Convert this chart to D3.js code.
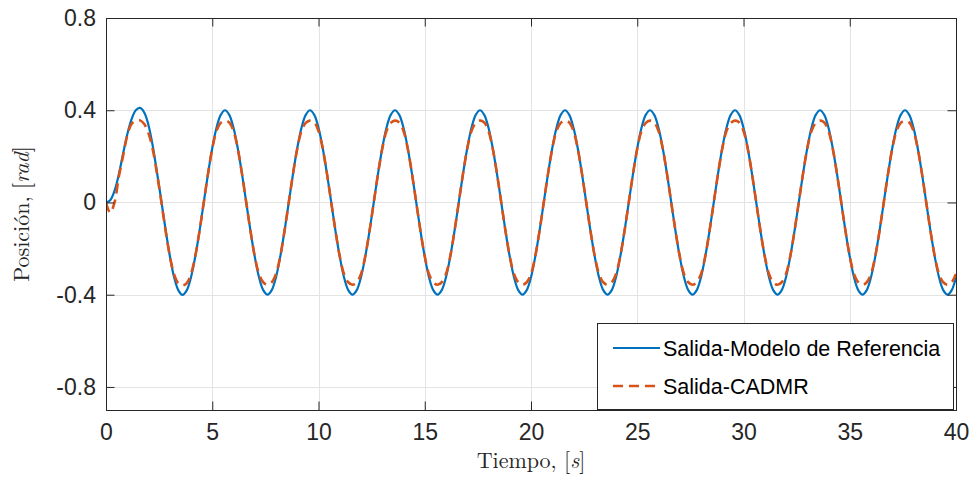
<!DOCTYPE html>
<meta charset="utf-8">
<script src="https://d3js.org/d3.v7.min.js"></script>
<style>
  body { margin: 0; background: #fff; }
  svg { display: block; }
</style>
<body>
<script>

// time axis, samples every 0.2 s from 0 to 40 s
var t = d3.range(0, 40.0001, 0.2);

// reference model output (blue)
var salidaModelo = [
  0, 0.01, 0.05, 0.12, 0.21, 0.295, 0.36, 0.40, 0.41, 0.39, 0.335, 0.245, 0.13, 0.01, -0.115, -0.23, -0.322, -0.38, -0.401, -0.381,
  -0.324, -0.235, -0.124, 0, 0.124, 0.235, 0.324, 0.380, 0.400, 0.380, 0.324, 0.235, 0.124, 0, -0.124, -0.235, -0.324, -0.380, -0.400, -0.380,
  -0.324, -0.235, -0.124, 0, 0.124, 0.235, 0.324, 0.380, 0.400, 0.380, 0.324, 0.235, 0.124, 0, -0.124, -0.235, -0.324, -0.380, -0.400, -0.380,
  -0.324, -0.235, -0.124, 0, 0.124, 0.235, 0.324, 0.380, 0.400, 0.380, 0.324, 0.235, 0.124, 0, -0.124, -0.235, -0.324, -0.380, -0.400, -0.380,
  -0.324, -0.235, -0.124, 0, 0.124, 0.235, 0.324, 0.380, 0.400, 0.380, 0.324, 0.235, 0.124, 0, -0.124, -0.235, -0.324, -0.380, -0.400, -0.380,
  -0.324, -0.235, -0.124, 0, 0.124, 0.235, 0.324, 0.380, 0.400, 0.380, 0.324, 0.235, 0.124, 0, -0.124, -0.235, -0.324, -0.380, -0.400, -0.380,
  -0.324, -0.235, -0.124, 0, 0.124, 0.235, 0.324, 0.380, 0.400, 0.380, 0.324, 0.235, 0.124, 0, -0.124, -0.235, -0.324, -0.380, -0.400, -0.380,
  -0.324, -0.235, -0.124, 0, 0.124, 0.235, 0.324, 0.380, 0.400, 0.380, 0.324, 0.235, 0.124, 0, -0.124, -0.235, -0.324, -0.380, -0.400, -0.380,
  -0.324, -0.235, -0.124, 0, 0.124, 0.235, 0.324, 0.380, 0.400, 0.380, 0.324, 0.235, 0.124, 0, -0.124, -0.235, -0.324, -0.380, -0.400, -0.380,
  -0.324, -0.235, -0.124, 0, 0.124, 0.235, 0.324, 0.380, 0.400, 0.380, 0.324, 0.235, 0.124, 0, -0.124, -0.235, -0.324, -0.380, -0.400, -0.380,
  -0.324
];

// controller output (orange dashed), flattened at the peaks
var salidaCADMR = [
  0, -0.045, 0.0, 0.11, 0.20, 0.29, 0.34, 0.355, 0.356, 0.34, 0.30, 0.23, 0.125, 0.005, -0.12, -0.23, -0.31, -0.35, -0.36, -0.35,
  -0.31, -0.233, -0.124, 0, 0.124, 0.233, 0.31, 0.345, 0.355, 0.347, 0.31, 0.233, 0.124, 0, -0.124, -0.233, -0.31, -0.346, -0.357, -0.346,
  -0.31, -0.233, -0.124, 0, 0.124, 0.233, 0.31, 0.345, 0.355, 0.347, 0.31, 0.233, 0.124, 0, -0.124, -0.233, -0.31, -0.346, -0.357, -0.346,
  -0.31, -0.233, -0.124, 0, 0.124, 0.233, 0.31, 0.345, 0.355, 0.347, 0.31, 0.233, 0.124, 0, -0.124, -0.233, -0.31, -0.346, -0.357, -0.346,
  -0.31, -0.233, -0.124, 0, 0.124, 0.233, 0.31, 0.345, 0.355, 0.347, 0.31, 0.233, 0.124, 0, -0.124, -0.233, -0.31, -0.346, -0.357, -0.346,
  -0.31, -0.233, -0.124, 0, 0.124, 0.233, 0.31, 0.345, 0.355, 0.347, 0.31, 0.233, 0.124, 0, -0.124, -0.233, -0.31, -0.346, -0.357, -0.346,
  -0.31, -0.233, -0.124, 0, 0.124, 0.233, 0.31, 0.345, 0.355, 0.347, 0.31, 0.233, 0.124, 0, -0.124, -0.233, -0.31, -0.346, -0.357, -0.346,
  -0.31, -0.233, -0.124, 0, 0.124, 0.233, 0.31, 0.345, 0.355, 0.347, 0.31, 0.233, 0.124, 0, -0.124, -0.233, -0.31, -0.346, -0.357, -0.346,
  -0.31, -0.233, -0.124, 0, 0.124, 0.233, 0.31, 0.345, 0.355, 0.347, 0.31, 0.233, 0.124, 0, -0.124, -0.233, -0.31, -0.346, -0.357, -0.346,
  -0.31, -0.233, -0.124, 0, 0.124, 0.233, 0.31, 0.345, 0.355, 0.347, 0.31, 0.233, 0.124, 0, -0.124, -0.233, -0.31, -0.346, -0.357, -0.346,
  -0.31
];

var xTicks = [0, 5, 10, 15, 20, 25, 30, 35, 40];
var yTicks = [-0.8, -0.4, 0, 0.4, 0.8];
var yTickLabels = ["-0.8", "-0.4", "0", "0.4", "0.8"];
var seriesNames = ["Salida-Modelo de Referencia", "Salida-CADMR"];
var seriesColors = ["#0072BD", "#D95319"];

var W = 974, H = 481;
var m = { left: 106, right: 956, top: 18, bottom: 410 };
var axisColor = "#262626";

var svg = d3.select("body").append("svg")
    .attr("width", W)
    .attr("height", H);

var x = d3.scaleLinear().domain([0, 40]).range([m.left, m.right]);
var y = d3.scaleLinear().domain([-0.9, 0.8]).range([m.bottom, m.top]);

// grid
var grid = svg.append("g").attr("stroke", "#e3e3e3").attr("stroke-width", 1);
grid.selectAll(".gx").data(xTicks).enter().append("line")
    .attr("x1", d => Math.round(x(d)) + 0.5).attr("x2", d => Math.round(x(d)) + 0.5)
    .attr("y1", m.top).attr("y2", m.bottom);
grid.selectAll(".gy").data(yTicks).enter().append("line")
    .attr("y1", d => Math.round(y(d)) + 0.5).attr("y2", d => Math.round(y(d)) + 0.5)
    .attr("x1", m.left).attr("x2", m.right);

// lines
svg.append("clipPath").attr("id", "clip").append("rect")
    .attr("x", m.left).attr("y", m.top).attr("width", m.right - m.left).attr("height", m.bottom - m.top);

var line = d3.line()
    .x((d, i) => x(t[i]))
    .y(d => y(d))
    .curve(d3.curveCatmullRom);

var plot = svg.append("g").attr("clip-path", "url(#clip)");
plot.append("path").datum(salidaModelo)
    .attr("d", line)
    .attr("fill", "none")
    .attr("stroke", seriesColors[0])
    .attr("stroke-width", 2.2);
plot.append("path").datum(salidaCADMR)
    .attr("d", line)
    .attr("fill", "none")
    .attr("stroke", seriesColors[1])
    .attr("stroke-width", 2.6)
    .attr("stroke-dasharray", "10,6");

// axes with inward ticks on all four sides (box on)
var tickLen = 8.5;
var bottomAxis = d3.axisBottom(x).tickValues(xTicks).tickSizeInner(-tickLen).tickSizeOuter(0).tickPadding(14);
var leftAxis = d3.axisLeft(y).tickValues(yTicks).tickSizeInner(-tickLen).tickSizeOuter(0).tickPadding(10)
    .tickFormat((d, i) => yTickLabels[i]);
var topAxis = d3.axisTop(x).tickValues(xTicks).tickSizeInner(-tickLen).tickSizeOuter(0).tickFormat("");
var rightAxis = d3.axisRight(y).tickValues(yTicks).tickSizeInner(-tickLen).tickSizeOuter(0).tickFormat("");

function styleAxis(g) {
  g.select(".domain").remove();
  g.selectAll(".tick line").attr("stroke", axisColor);
  g.selectAll(".tick text")
    .attr("fill", axisColor)
    .style("font-family", "'Liberation Sans', Arial, Helvetica, sans-serif")
    .style("font-size", "23px");
}

svg.append("g").attr("transform", "translate(0," + m.bottom + ")").call(bottomAxis).call(styleAxis);
svg.append("g").attr("transform", "translate(" + m.left + ",0)").call(leftAxis).call(styleAxis);
svg.append("g").attr("transform", "translate(0," + m.top + ")").call(topAxis).call(styleAxis);
svg.append("g").attr("transform", "translate(" + m.right + ",0)").call(rightAxis).call(styleAxis);

svg.append("rect")
    .attr("x", m.left + 0.5).attr("y", m.top + 0.5)
    .attr("width", m.right - m.left).attr("height", m.bottom - m.top)
    .attr("fill", "none")
    .attr("stroke", axisColor)
    .attr("stroke-width", 1);

// axis labels (LaTeX style)
var serif = "'Latin Modern Roman', 'CMU Serif', 'Liberation Serif', 'Times New Roman', serif";
var xl = svg.append("text")
    .attr("x", (m.left + m.right) / 2).attr("y", 468)
    .attr("text-anchor", "middle")
    .style("font-family", serif).style("font-size", "22px").attr("fill", axisColor);
xl.append("tspan").text("Tiempo, [");
xl.append("tspan").style("font-style", "italic").text("s");
xl.append("tspan").text("]");

var yl = svg.append("text")
    .attr("transform", "translate(29," + ((m.top + m.bottom) / 2) + ") rotate(-90)")
    .attr("text-anchor", "middle")
    .style("font-family", serif).style("font-size", "22px").attr("fill", axisColor);
yl.append("tspan").text("Posición, [");
yl.append("tspan").style("font-style", "italic").text("rad");
yl.append("tspan").text("]");

// legend
var lg = svg.append("g");
lg.append("rect")
    .attr("x", 597.5).attr("y", 323.5).attr("width", 356).attr("height", 86)
    .attr("fill", "#fff").attr("stroke", axisColor).attr("stroke-width", 1);

var legendRows = lg.selectAll(".row").data(seriesNames).enter().append("g")
    .attr("transform", (d, i) => "translate(0," + (348 + i * 38) + ")");
legendRows.append("line")
    .attr("x1", 613).attr("x2", 660).attr("y1", 0).attr("y2", 0)
    .attr("stroke", (d, i) => seriesColors[i])
    .attr("stroke-width", (d, i) => i === 0 ? 2.2 : 2.6)
    .attr("stroke-dasharray", (d, i) => i === 0 ? null : "10,6");
legendRows.append("text")
    .attr("x", 663).attr("y", 8)
    .attr("fill", "#000")
    .style("font-family", "'Liberation Sans', Arial, Helvetica, sans-serif")
    .style("font-size", "21.5px")
    .text(d => d);

</script>
</body>
